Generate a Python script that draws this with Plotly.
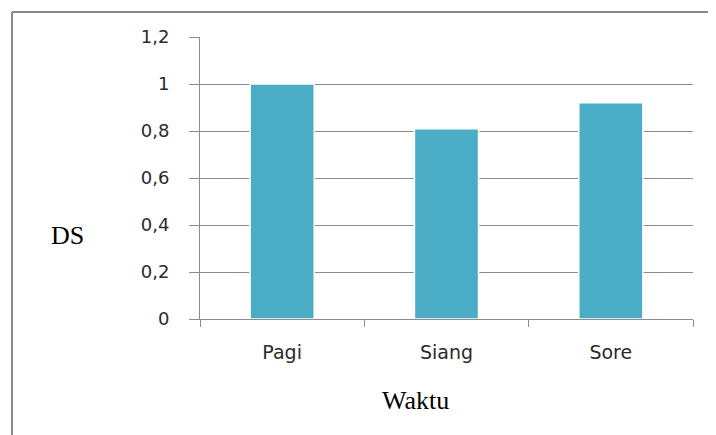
import plotly.graph_objects as go

categories = ["Pagi", "Siang", "Sore"]
values = [1.0, 0.81, 0.92]
y_tickvals = [0, 0.2, 0.4, 0.6, 0.8, 1.0, 1.2]
y_ticktext = ["0", "0,2", "0,4", "0,6", "0,8", "1", "1,2"]

# page has an 8px body margin; figure sized to fit the window
OFF = 8
W, H = 700, 427
L = 200 - OFF
T = 37 - OFF
R = W - (693 - OFF)
B = H - (319 - OFF)
pw = W - L - R
ph = H - T - B

def px2x(px):
    return (px - OFF - L) / pw

def py2y(py):
    return (H - B - (py - OFF)) / ph

fig = go.Figure()
fig.add_trace(go.Bar(
    x=categories, y=values,
    marker=dict(color="#4BACC6", line=dict(color="#ffffff", width=1.5)),
    width=0.39,
))

frame = dict(color="#888888", width=2)

fig.update_layout(
    width=W, height=H,
    margin=dict(l=L, r=R, t=T, b=B),
    paper_bgcolor="white", plot_bgcolor="white",
    showlegend=False,
    separators=",.",
    xaxis=dict(
        showline=True, linecolor="#8c8c8c", linewidth=1,
        ticks="outside", tickson="boundaries", ticklen=7, tickcolor="#8c8c8c",
        tickfont=dict(family="DejaVu Sans", size=19, color="#2a2a2a"),
        showgrid=False, ticklabelstandoff=16,
    ),
    yaxis=dict(
        range=[0, 1.2], tickvals=y_tickvals, ticktext=y_ticktext,
        showline=True, linecolor="#8c8c8c", linewidth=1,
        ticks="outside", ticklen=10, tickcolor="#8c8c8c",
        showgrid=True, gridcolor="#8c8c8c", gridwidth=1,
        tickfont=dict(family="DejaVu Sans", size=18, color="#2a2a2a"),
        ticklabelstandoff=16, zeroline=False,
    ),
    shapes=[
        dict(type="line", xref="paper", yref="paper",
             x0=px2x(12), x1=px2x(12), y0=py2y(440), y1=py2y(12), line=frame),
        dict(type="line", xref="paper", yref="paper",
             x0=px2x(12), x1=px2x(720), y0=py2y(12), y1=py2y(12), line=frame),
    ],
    annotations=[
        dict(text="DS", xref="paper", yref="paper", x=px2x(67), y=py2y(235),
             showarrow=False, font=dict(family="Liberation Serif", size=26, color="black"),
             xanchor="center", yanchor="middle"),
        dict(text="Waktu", xref="paper", yref="paper", x=px2x(415), y=py2y(400),
             showarrow=False, font=dict(family="Liberation Serif", size=26, color="black"),
             xanchor="center", yanchor="middle"),
    ],
)

fig.write_html("out.html")
